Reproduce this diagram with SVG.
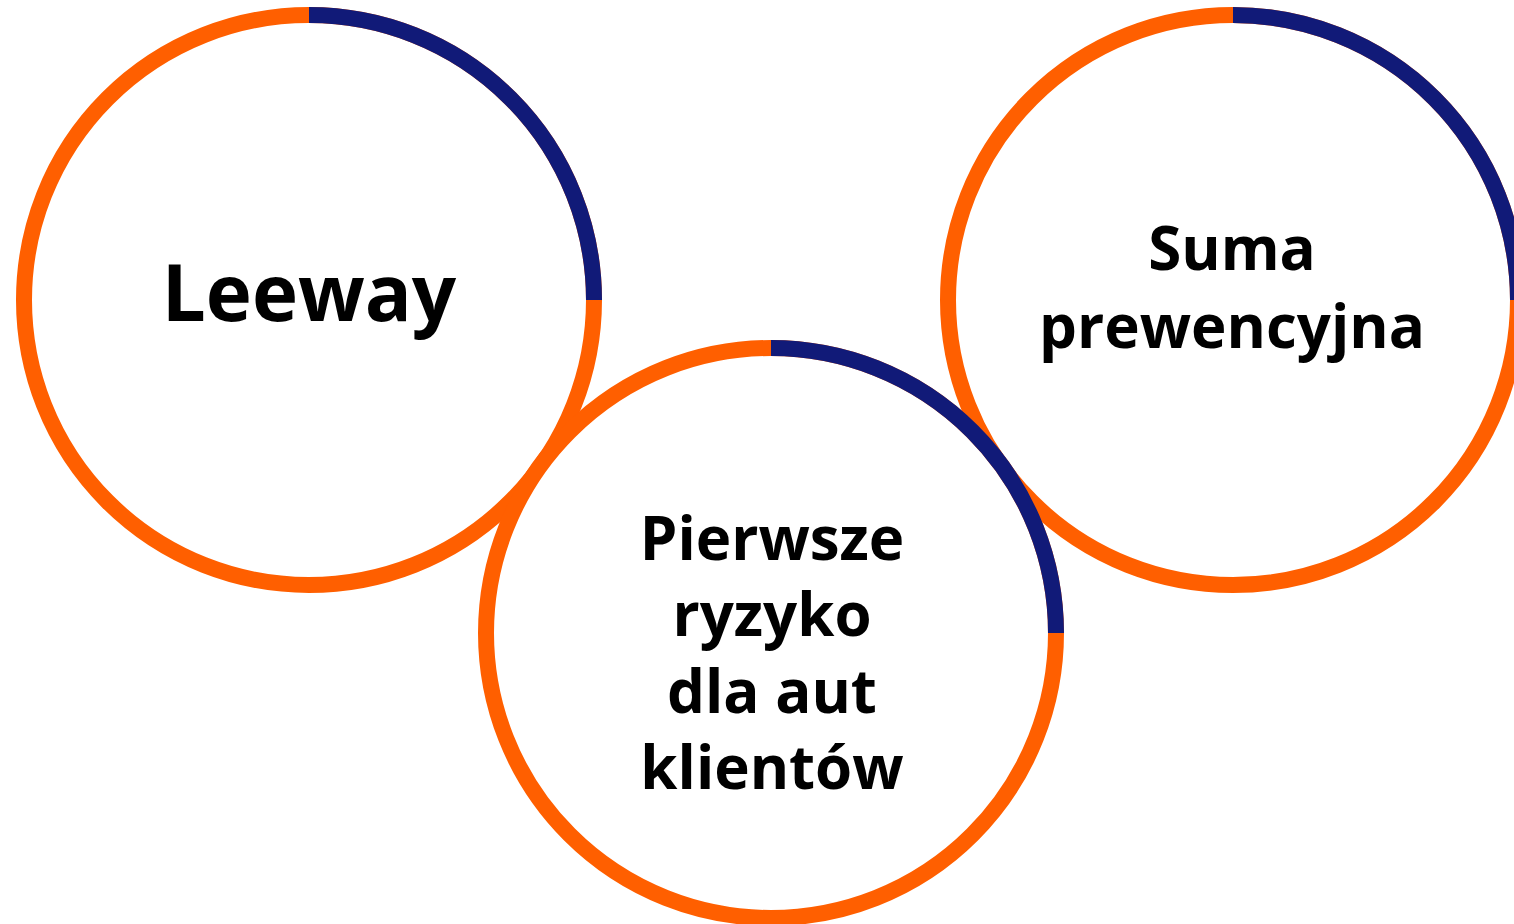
<svg xmlns="http://www.w3.org/2000/svg" width="1514" height="924" viewBox="0 0 1514 924">
  <style>
    .ring { fill: #ffffff; stroke: #ff5f00; stroke-width: 16; }
    .arc { fill: none; stroke: #111a78; stroke-width: 16; stroke-linecap: butt; }
    .label { font-family: "Open Sans", "Noto Sans", "DejaVu Sans", sans-serif; font-weight: 700; fill: #000000; text-anchor: middle; }
  </style>
  <rect width="1514" height="924" fill="#ffffff"/>
  <g id="node-leeway">
    <circle class="ring" cx="309" cy="300" r="285"/>
    <path class="arc" d="M309,15 A285,285 0 0 1 594,300"/>
    <text class="label" x="309" y="321" font-size="78">Leeway</text>
  </g>
  <g id="node-suma">
    <circle class="ring" cx="1233" cy="300" r="285"/>
    <path class="arc" d="M1233,15 A285,285 0 0 1 1518,300"/>
    <text class="label" x="1232" y="270" font-size="60">Suma</text>
    <text class="label" x="1232" y="348" font-size="60">prewencyjna</text>
  </g>
  <g id="node-pierwsze">
    <circle class="ring" cx="771" cy="633" r="285"/>
    <path class="arc" d="M771,348 A285,285 0 0 1 1056,633"/>
    <text class="label" x="772" y="560" font-size="60">Pierwsze</text>
    <text class="label" x="772" y="636" font-size="60">ryzyko</text>
    <text class="label" x="772" y="713" font-size="60">dla aut</text>
    <text class="label" x="772" y="789" font-size="60">klientów</text>
  </g>
  <g id="connectors"></g>
</svg>
